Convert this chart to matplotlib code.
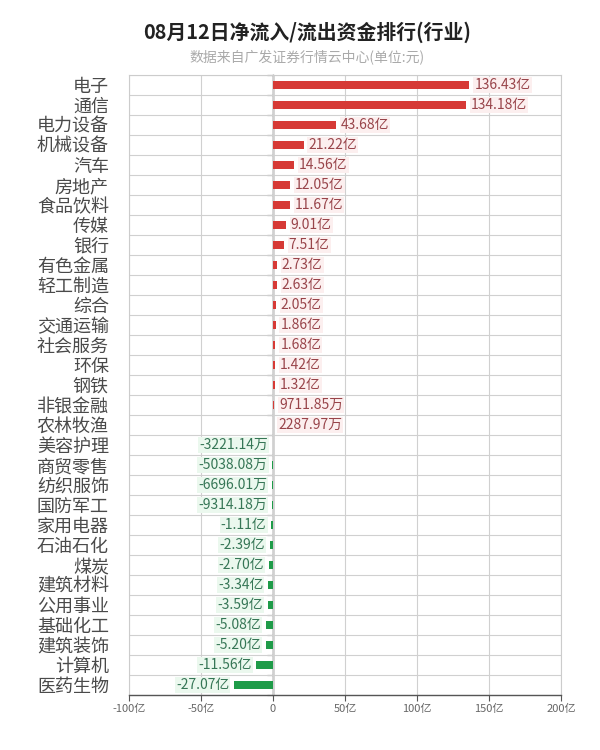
import matplotlib
matplotlib.use("Agg")
import matplotlib.pyplot as plt
import numpy as np

plt.rcParams['font.family'] = ['Noto Sans CJK SC', 'DejaVu Sans']

title = "08月12日净流入/流出资金排行(行业)"
subtitle = "数据来自广发证券行情云中心(单位:元)"

categories = ["电子", "通信", "电力设备", "机械设备", "汽车", "房地产", "食品饮料", "传媒",
              "银行", "有色金属", "轻工制造", "综合", "交通运输", "社会服务", "环保", "钢铁",
              "非银金融", "农林牧渔", "美容护理", "商贸零售", "纺织服饰", "国防军工", "家用电器",
              "石油石化", "煤炭", "建筑材料", "公用事业", "基础化工", "建筑装饰", "计算机", "医药生物"]

# net flow in 亿元
values = [136.43, 134.18, 43.68, 21.22, 14.56, 12.05, 11.67, 9.01,
          7.51, 2.73, 2.63, 2.05, 1.86, 1.68, 1.42, 1.32,
          0.971185, 0.228797, -0.322114, -0.503808, -0.669601, -0.931418, -1.11,
          -2.39, -2.70, -3.34, -3.59, -5.08, -5.20, -11.56, -27.07]

value_labels = ["136.43亿", "134.18亿", "43.68亿", "21.22亿", "14.56亿", "12.05亿", "11.67亿", "9.01亿",
                "7.51亿", "2.73亿", "2.63亿", "2.05亿", "1.86亿", "1.68亿", "1.42亿", "1.32亿",
                "9711.85万", "2287.97万", "-3221.14万", "-5038.08万", "-6696.01万", "-9314.18万", "-1.11亿",
                "-2.39亿", "-2.70亿", "-3.34亿", "-3.59亿", "-5.08亿", "-5.20亿", "-11.56亿", "-27.07亿"]

x_ticks = [-100, -50, 0, 50, 100, 150, 200]
x_tick_labels = ["-100亿", "-50亿", "0", "50亿", "100亿", "150亿", "200亿"]

fig = plt.figure(figsize=(6, 7.5), dpi=100)
ax = fig.add_axes([129/600, 55/750, 432/600, 620/750])

y = np.arange(len(categories))
colors = ['#d63a36' if v >= 0 else '#1e9b48' for v in values]
ax.barh(y, values, height=0.4, color=colors, zorder=3)

for yi, v, lab in zip(y, values, value_labels):
    if v >= 0:
        ax.annotate(lab, xy=(v, yi), xytext=(3.5, 0), textcoords='offset points',
                    ha='left', va='center', fontsize=10, color='#98444a', zorder=4,
                    bbox=dict(boxstyle='square,pad=0.08', fc='#fcefef', ec='none'))
    else:
        ax.annotate(lab, xy=(v, yi), xytext=(-3.5, 0), textcoords='offset points',
                    ha='right', va='center', fontsize=10, color='#367656', zorder=4,
                    bbox=dict(boxstyle='square,pad=0.08', fc='#ebf8ee', ec='none'))

ax.set_xlim(-100, 200)
ax.set_ylim(len(categories) - 0.5, -0.5)

ax.set_xticks(x_ticks, x_tick_labels)
ax.tick_params(axis='x', length=4, width=0.8, color='#555555', labelsize=8,
               labelcolor='#666666', pad=2.5)

ax.set_yticks(y, categories)
ax.set_yticks(np.arange(-0.5, len(categories), 1.0), minor=True)
ax.tick_params(axis='y', which='major', length=0, labelsize=13, labelcolor='#4a4a4a', pad=14.5)
ax.tick_params(axis='y', which='minor', length=0)

ax.grid(axis='x', which='major', color='#d0d0d0', lw=0.8, zorder=0)
ax.grid(axis='y', which='minor', color='#d0d0d0', lw=0.8, zorder=0)
ax.set_axisbelow(True)

for s in ['left', 'top', 'right']:
    ax.spines[s].set_color('#cccccc')
    ax.spines[s].set_linewidth(0.8)
ax.spines['bottom'].set_color('#555555')
ax.spines['bottom'].set_linewidth(1.0)

# zero axis with boundary ticks
sec = ax.secondary_yaxis(1/3)
sec.set_yticks(np.arange(-0.5, len(categories), 1.0))
sec.set_yticklabels([])
sec.tick_params(axis='y', length=4, width=0.8, color='#333333', direction='out')
sec.spines['left'].set_color('#333333')
sec.spines['left'].set_linewidth(1.0)
for s in ['right', 'top', 'bottom']:
    sec.spines[s].set_visible(False)

fig.text(307/600, 1 - 32/750, title, ha='center', va='center', fontsize=14.3,
         fontweight='bold', color='#222222')
fig.text(307/600, 1 - 58/750, subtitle, ha='center', va='center', fontsize=10,
         color='#aaaaaa')

fig.savefig("out.png", dpi=100, facecolor='white')
